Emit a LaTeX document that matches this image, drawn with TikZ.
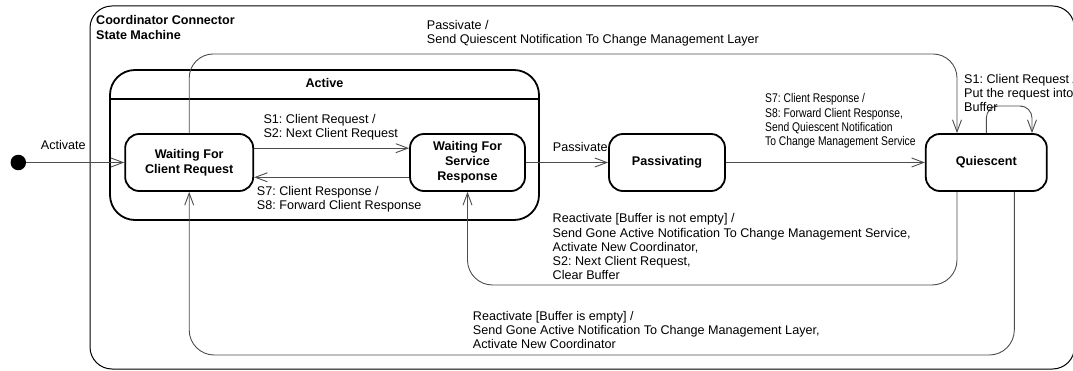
\documentclass[tikz,border=0pt]{standalone}
\usepackage{fontspec}
\setmainfont{Liberation Sans}
\newfontfamily\narrowfont[FakeStretch=0.82]{Liberation Sans}
\frenchspacing
\usetikzlibrary{arrows.meta}

\begin{document}
\begin{tikzpicture}[x=1pt, y=-1pt,
    lbl/.style={anchor=north west, inner sep=0pt, align=left, font=\fontsize{12.6}{14.2}\selectfont},
    state/.style={draw, line width=1.8pt, rounded corners=14pt, align=center, minimum height=57pt, inner sep=0pt, font=\fontsize{12.6}{15}\selectfont\bfseries},
    trans/.style={draw=black!70, line width=0.9pt, -{Straight Barb[length=12pt,width=9pt]}},
  ]
    \useasboundingbox (0,0) rectangle (1073,371);
    % state machine frame
    \node[draw, line width=1pt, rounded corners=22pt, minimum width=984.5pt, minimum height=363pt, inner sep=0pt] (ccsm) at (582.25,187.5) {};
    \node[lbl, font=\fontsize{12.6}{14.5}\selectfont\bfseries] (ccsmtitle) at (96,15.2) {Coordinator Connector\\State Machine};
    % composite state Active
    \node[draw, line width=1.8pt, rounded corners=25pt, minimum width=429pt, minimum height=150pt, inner sep=0pt] (active) at (324.5,145) {};
    \node[inner sep=0pt, font=\fontsize{12.6}{15}\selectfont\bfseries] (activetitle) at (324.5,83) {Active};
    \coordinate (divy) at (0,99);
    \draw[line width=1.8pt] (active.west |- divy) -- (active.east |- divy);
    % states
    \node[circle, fill, inner sep=0pt, minimum size=15.5pt] (init) at (18.3,162.5) {};
    \node[state, minimum width=128pt] (wfcr) at (189.2,162.5) {Waiting For\\Client Request};
    \node[state, minimum width=115pt] (wfsr) at (467.5,162.5) {Waiting For\\Service\\Response};
    \node[state, minimum width=116pt] (passivating) at (667,162.5) {Passivating};
    \node[state, minimum width=121pt] (quiescent) at (986.3,162.5) {Quiescent};
    % transitions
    \draw[trans] (init) -- (wfcr);
    \draw[trans] ([yshift=14.3pt]wfcr.east) -- ([yshift=14.3pt]wfsr.west);
    \draw[trans] ([yshift=-14.8pt]wfsr.west) -- ([yshift=-14.8pt]wfcr.east);
    \draw[trans] (wfsr) -- (passivating);
    \draw[trans] (passivating) -- (quiescent);
    \coordinate (passtop) at (600,54);
    \draw[trans, rounded corners=24pt] (wfcr.north) |- (passtop) -| ([xshift=-29.3pt]quiescent.north);
    \coordinate (looptop) at (1010,106);
    \draw[trans, rounded corners=12pt] (quiescent.north) |- (looptop) -| ([xshift=45.7pt]quiescent.north);
    \coordinate (reactfull) at (700,285);
    \draw[trans, rounded corners=25pt] ([xshift=-29.3pt]quiescent.south) |- (reactfull) -| (wfsr.south);
    \coordinate (reactempty) at (600,355);
    \draw[trans, rounded corners=25pt] ([xshift=28pt]quiescent.south) |- (reactempty) -| (wfcr.south);
    % labels
    \node[lbl] (lactivate) at (40.7,140.2) {Activate};
    \node[lbl] (lnextreq) at (263.3,113.9) {S1: Client Request /\\S2: Next Client Request};
    \node[lbl] (lfwdresp) at (256.7,185.9) {S7: Client Response /\\S8: Forward Client Response};
    \node[lbl] (lpassivate) at (552.7,141.9) {Passivate};
    \node[lbl] (lpassnotify) at (426.7,20.2) {Passivate /\\Send Quiescent Notification To Change Management Layer};
    \node[lbl, font=\narrowfont\fontsize{12.6}{14.2}\selectfont] (lquiesce) at (765,93.5) {S7: Client Response /\\S8: Forward Client Response,\\Send Quiescent Notification\\To Change Management Service};
    \node[lbl] (lbuffer) at (964,74.2) {S1: Client Request /\\Put the request into\\Buffer};
    \node[lbl] (lreactfull) at (552.5,213.5) {Reactivate [Buffer is not empty] /\\Send Gone Active Notification To Change Management Service,\\Activate New Coordinator,\\S2: Next Client Request,\\Clear Buffer};
    \node[lbl] (lreactempty) at (472.7,311.2) {Reactivate [Buffer is empty] /\\Send Gone Active Notification To Change Management Layer,\\Activate New Coordinator};
\end{tikzpicture}
\end{document}
